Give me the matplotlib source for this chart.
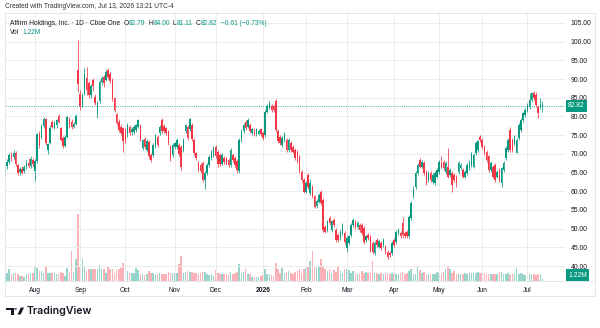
import matplotlib
matplotlib.use("Agg")
import matplotlib.pyplot as plt
import matplotlib.transforms as mtransforms
from matplotlib.patches import Polygon, Circle
from matplotlib.lines import Line2D
import numpy as np
import pandas as pd

plt.rcParams['font.family'] = ['Liberation Sans', 'DejaVu Sans']

# ---------------- data ----------------
holidays = ['2025-09-01', '2025-11-27', '2025-12-25', '2026-01-01', '2026-01-19',
            '2026-02-16', '2026-04-03', '2026-05-25', '2026-06-19', '2026-07-03']
dates = pd.bdate_range('2025-07-14', '2026-07-13', freq='C', holidays=holidays)

opens = [
    64.2, 66.8, 67.8, 69.6, 69.2, 70.3, 67.0, 65.2, 66.0, 65.3,
    66.4, 67.6, 66.8, 68.4, 65.5, 68.2, 75.4, 74.5, 77.5, 79.2,
    71.0, 72.8, 78.6, 77.0, 77.6, 80.2, 76.8, 74.3, 72.2, 74.6,
    79.4, 78.6, 77.3, 78.1, 92.5, 86.0, 83.0, 86.0, 90.2, 88.8,
    85.6, 89.8, 85.3, 81.4, 84.0, 89.2, 90.5, 89.8, 92.4, 91.4,
    89.8, 84.8, 80.6, 78.6, 77.3, 76.8, 76.2, 75.2, 77.3, 75.8,
    75.9, 76.4, 77.3, 77.7, 71.6, 74.0, 71.0, 73.2, 69.7, 69.7,
    72.0, 74.6, 75.5, 79.0, 77.4, 76.8, 76.0, 71.9, 69.7, 71.9,
    71.9, 72.4, 71.9, 71.0, 76.0, 77.3, 76.6, 77.7, 73.7, 70.1,
    67.5, 67.0, 67.5, 63.0, 64.8, 67.0, 68.8, 69.7, 71.9, 70.6,
    69.7, 67.4, 68.8, 68.8, 68.4, 67.0, 69.7, 68.8, 68.0, 65.4,
    73.7, 76.0, 78.6, 77.3, 77.8, 75.6, 76.4, 75.2, 75.4, 76.5,
    75.6, 75.0, 81.3, 82.3, 82.8, 82.7, 84.2, 76.0, 74.6, 72.4,
    73.7, 73.7, 71.0, 72.8, 71.9, 71.0, 70.6, 69.3, 65.2, 63.0,
    59.9, 64.3, 59.4, 61.2, 58.6, 56.0, 57.2, 59.9, 57.7, 50.5,
    49.6, 52.8, 49.6, 52.3, 49.6, 48.3, 47.4, 48.8, 48.8, 44.7,
    46.1, 48.3, 51.0, 51.9, 50.5, 51.0, 51.0, 50.1, 47.0, 48.3,
    47.9, 46.1, 43.4, 47.0, 45.2, 46.1, 45.6, 45.2, 43.8, 43.4,
    43.4, 47.0, 46.5, 48.8, 48.8, 51.4, 48.8, 49.2, 47.9, 52.8,
    58.6, 61.2, 64.8, 68.4, 66.6, 67.5, 65.2, 63.0, 64.8, 62.5,
    62.1, 63.9, 65.2, 67.5, 67.9, 65.2, 66.6, 64.3, 64.8, 64.3,
    63.9, 65.2, 66.1, 65.7, 63.9, 64.8, 66.1, 67.0, 66.6, 70.1,
    71.0, 74.6, 73.7, 71.9, 70.6, 69.3, 65.7, 66.6, 67.0, 63.9,
    65.7, 62.1, 65.7, 68.8, 71.0, 76.4, 73.7, 72.8, 70.1, 74.2,
    76.4, 79.1, 80.4, 81.7, 82.6, 84.4, 86.2, 85.7, 82.6, 82.6,
    82.79]

highs = [
    67.4, 68.6, 70.3, 70.6, 71.0, 70.8, 67.4, 66.6, 66.8, 67.0,
    68.3, 68.9, 69.4, 69.0, 68.6, 75.6, 76.0, 78.0, 79.8, 79.6,
    73.0, 77.6, 79.0, 78.8, 79.4, 80.6, 77.2, 74.8, 74.9, 80.2,
    79.9, 79.3, 78.6, 80.6, 100.4, 87.0, 86.2, 93.0, 93.3, 89.4,
    88.6, 90.4, 86.0, 84.0, 89.8, 90.9, 91.0, 92.4, 92.9, 91.8,
    90.2, 85.3, 81.0, 79.2, 77.9, 77.3, 76.8, 78.2, 77.8, 77.1,
    77.6, 78.1, 79.4, 78.0, 74.0, 74.5, 73.9, 73.6, 70.2, 72.9,
    75.4, 75.1, 77.8, 79.6, 77.9, 77.2, 76.4, 72.3, 72.8, 73.2,
    74.3, 72.9, 72.4, 74.1, 78.1, 77.8, 79.6, 78.2, 74.2, 70.6,
    68.0, 67.5, 68.0, 65.3, 67.5, 69.7, 71.0, 72.0, 72.4, 71.0,
    70.2, 70.2, 69.3, 69.2, 68.9, 71.5, 70.2, 69.3, 68.5, 74.2,
    76.5, 78.2, 79.1, 79.6, 78.3, 77.0, 76.9, 77.0, 76.7, 77.0,
    76.1, 81.7, 83.2, 84.1, 83.3, 83.1, 84.6, 76.5, 75.1, 74.7,
    75.9, 74.2, 74.2, 73.3, 72.4, 71.5, 71.1, 69.8, 65.7, 63.5,
    62.6, 64.8, 63.2, 61.7, 59.1, 57.8, 59.5, 60.4, 58.2, 51.0,
    52.4, 53.3, 52.4, 52.8, 50.1, 48.8, 49.7, 51.5, 49.3, 47.9,
    48.4, 51.5, 52.8, 52.4, 51.9, 51.5, 51.5, 50.6, 48.4, 48.8,
    48.4, 46.6, 46.6, 47.5, 47.1, 46.6, 47.5, 45.7, 44.3, 43.9,
    46.6, 47.5, 49.7, 50.1, 49.3, 53.2, 49.3, 49.7, 53.7, 57.3,
    61.5, 65.3, 67.5, 69.0, 68.4, 68.0, 65.7, 65.3, 65.3, 64.8,
    65.3, 66.2, 68.4, 69.3, 68.4, 68.0, 71.5, 66.2, 65.3, 64.8,
    64.4, 68.0, 67.5, 66.2, 65.7, 67.5, 68.4, 70.6, 70.2, 73.3,
    73.8, 75.0, 74.2, 72.4, 71.1, 69.8, 68.0, 67.1, 67.5, 65.7,
    66.2, 66.6, 68.0, 72.0, 74.2, 77.3, 74.2, 75.1, 74.2, 78.2,
    79.6, 81.3, 82.2, 83.5, 86.2, 86.6, 86.7, 86.6, 83.1, 84.9,
    84.00]

lows = [
    63.6, 66.0, 67.2, 68.0, 68.5, 66.8, 64.2, 64.4, 64.6, 64.9,
    66.0, 66.2, 66.3, 66.5, 62.8, 67.6, 71.5, 74.0, 77.0, 72.4,
    70.0, 72.5, 76.8, 76.5, 76.9, 78.2, 73.4, 71.6, 71.8, 74.2,
    77.0, 76.6, 76.8, 77.8, 86.5, 81.8, 82.6, 85.6, 85.8, 85.0,
    85.0, 86.8, 83.0, 79.5, 83.6, 88.5, 87.9, 89.4, 90.0, 89.0,
    84.2, 81.2, 77.6, 75.8, 75.0, 70.6, 73.0, 74.6, 75.0, 75.0,
    75.3, 75.8, 76.9, 73.4, 71.0, 71.3, 70.4, 68.6, 67.8, 69.2,
    71.6, 71.9, 75.0, 75.6, 75.6, 75.0, 72.3, 68.2, 69.2, 71.3,
    71.4, 69.5, 65.6, 70.5, 75.6, 73.6, 76.0, 73.4, 69.8, 68.3,
    65.2, 64.8, 62.4, 60.5, 64.3, 66.6, 68.3, 69.2, 68.8, 66.6,
    66.7, 67.0, 67.4, 66.9, 66.5, 66.6, 67.9, 66.5, 64.9, 65.0,
    73.2, 75.5, 76.3, 76.8, 75.5, 75.1, 74.8, 74.8, 75.0, 74.8,
    73.8, 74.6, 80.8, 81.9, 81.3, 81.1, 75.9, 72.8, 72.3, 71.9,
    73.2, 70.5, 70.5, 70.5, 70.1, 68.3, 67.5, 64.8, 62.5, 59.4,
    59.4, 60.7, 58.9, 58.1, 55.4, 55.6, 56.8, 56.3, 49.1, 48.7,
    49.1, 50.9, 49.1, 50.5, 46.5, 46.5, 46.9, 48.3, 46.0, 43.8,
    45.6, 47.8, 50.5, 50.0, 50.0, 49.1, 48.3, 46.0, 46.5, 46.9,
    43.8, 43.3, 42.9, 45.1, 44.7, 44.2, 45.1, 43.3, 42.0, 42.4,
    42.9, 45.1, 46.0, 48.3, 47.4, 47.8, 47.4, 47.4, 47.4, 52.3,
    58.1, 60.7, 64.3, 66.1, 66.1, 64.3, 61.6, 62.5, 62.5, 62.0,
    61.6, 63.4, 64.7, 66.1, 65.7, 64.7, 63.4, 63.8, 59.9, 62.5,
    61.2, 64.7, 65.6, 63.4, 63.4, 64.3, 65.6, 66.5, 66.1, 69.6,
    70.5, 73.2, 71.4, 69.6, 67.9, 65.2, 65.2, 63.4, 62.5, 63.4,
    62.5, 61.2, 65.2, 68.3, 70.5, 70.5, 70.5, 72.3, 70.1, 73.7,
    75.9, 78.6, 79.9, 81.2, 82.1, 83.9, 84.3, 82.5, 79.5, 82.1,
    81.11]

closes = [
    66.8, 67.8, 69.6, 68.9, 70.1, 67.2, 64.9, 65.9, 65.0, 66.4,
    67.6, 66.7, 68.5, 67.4, 68.2, 75.2, 72.3, 77.5, 79.4, 73.0,
    72.6, 77.0, 77.2, 78.4, 79.0, 78.6, 73.8, 72.0, 74.4, 79.8,
    77.6, 77.2, 78.0, 80.0, 88.6, 82.8, 85.6, 91.4, 87.0, 85.8,
    88.0, 88.0, 83.6, 83.5, 89.2, 90.3, 88.8, 92.0, 90.6, 89.6,
    84.8, 81.8, 78.2, 76.4, 75.6, 73.3, 73.6, 77.7, 75.5, 76.6,
    77.2, 77.7, 79.0, 73.8, 73.6, 71.9, 73.4, 69.4, 68.4, 72.4,
    75.0, 72.4, 77.3, 76.1, 76.1, 75.5, 72.9, 68.8, 72.3, 72.8,
    73.6, 70.0, 66.6, 73.6, 77.6, 74.2, 79.2, 73.9, 70.3, 68.9,
    65.8, 65.3, 63.0, 64.8, 67.0, 69.2, 70.5, 71.5, 69.3, 67.2,
    67.2, 69.7, 67.9, 67.4, 67.0, 71.0, 68.4, 67.0, 65.7, 73.7,
    76.0, 77.7, 76.8, 79.1, 76.0, 76.5, 75.2, 76.5, 76.2, 75.2,
    74.3, 81.2, 82.7, 83.6, 81.8, 81.6, 76.4, 73.3, 72.8, 74.2,
    75.5, 71.0, 73.7, 71.0, 70.6, 68.8, 68.0, 65.3, 63.0, 59.9,
    62.1, 61.2, 62.1, 58.6, 55.9, 57.3, 59.0, 56.8, 49.6, 49.2,
    51.9, 51.4, 51.9, 51.0, 47.0, 47.0, 49.2, 51.0, 46.5, 47.4,
    47.9, 51.0, 52.3, 50.5, 51.4, 49.6, 48.8, 46.5, 47.9, 47.4,
    44.3, 43.8, 46.1, 45.6, 46.6, 44.7, 47.0, 43.8, 42.5, 42.9,
    46.1, 45.6, 49.2, 49.6, 47.9, 48.3, 47.9, 47.9, 53.2, 56.8,
    60.3, 64.8, 67.0, 66.6, 67.9, 64.8, 62.1, 64.8, 63.0, 64.3,
    64.8, 65.7, 67.9, 66.6, 66.2, 67.5, 63.9, 65.7, 61.6, 63.0,
    62.1, 67.5, 67.0, 63.9, 65.2, 67.0, 67.9, 70.1, 69.7, 72.8,
    73.3, 73.7, 71.9, 70.1, 68.4, 65.7, 67.5, 63.9, 63.0, 65.2,
    63.0, 66.1, 67.5, 71.5, 73.7, 71.0, 71.0, 74.6, 73.7, 77.7,
    79.1, 80.8, 81.7, 83.0, 84.4, 86.2, 84.8, 83.0, 80.8, 83.43,
    82.82]

volumes_m = [
    6.2, 6.2, 8.8, 5.0, 5.8, 5.8, 5.0, 3.8, 3.8, 3.0,
    5.0, 5.5, 5.8, 5.8, 11.5, 10.0, 7.5, 7.5, 6.2, 11.2,
    5.8, 5.8, 5.8, 6.2, 5.5, 5.0, 6.8, 6.0, 3.8, 10.0,
    6.8, 22.5, 6.8, 16.2, 50.0, 11.2, 16.2, 11.2, 7.5, 8.8,
    8.8, 9.2, 8.8, 8.8, 12.0, 9.2, 8.8, 6.2, 11.2, 9.2,
    8.8, 6.2, 8.0, 8.8, 10.0, 13.8, 11.2, 7.5, 6.2, 6.2,
    6.2, 10.0, 8.0, 5.0, 5.0, 4.5, 5.5, 7.5, 6.2, 6.2,
    5.5, 5.5, 6.2, 5.5, 5.0, 5.0, 7.0, 6.2, 6.2, 5.8,
    6.2, 12.5, 18.8, 6.2, 7.0, 7.5, 6.8, 7.0, 6.2, 6.2,
    5.0, 6.2, 6.8, 7.0, 5.0, 4.2, 5.0, 3.8, 8.0, 6.2,
    5.0, 5.0, 5.0, 5.5, 5.5, 7.0, 5.5, 6.2, 7.0, 12.5,
    6.2, 7.0, 8.8, 5.5, 5.0, 3.0, 3.0, 3.0, 3.0, 3.8,
    4.2, 8.8, 5.0, 5.0, 4.2, 3.8, 13.8, 8.8, 6.2, 10.0,
    6.2, 6.8, 7.5, 6.2, 5.5, 7.0, 7.5, 8.8, 6.2, 8.8,
    10.0, 11.2, 15.0, 22.5, 11.2, 10.0, 11.2, 16.2, 11.2, 8.8,
    7.5, 8.8, 6.2, 8.0, 7.0, 11.2, 7.5, 6.2, 8.8, 8.8,
    8.0, 6.2, 7.5, 6.2, 5.0, 5.0, 7.5, 6.2, 6.8, 6.2,
    6.2, 15.0, 6.2, 6.2, 5.5, 6.2, 5.0, 5.5, 6.2, 5.0,
    6.2, 5.0, 5.0, 5.5, 6.2, 7.0, 5.0, 6.2, 7.5, 8.8,
    5.5, 5.5, 10.5, 8.0, 6.2, 7.0, 5.0, 5.0, 5.0, 5.5,
    5.5, 7.0, 6.2, 5.5, 7.0, 8.8, 11.2, 8.8, 6.2, 7.5,
    5.0, 6.2, 5.0, 5.5, 6.2, 5.0, 6.2, 6.2, 6.2, 6.2,
    7.0, 6.2, 6.2, 6.2, 5.5, 5.0, 5.5, 5.0, 5.5, 5.0,
    7.0, 7.0, 5.0, 5.0, 6.2, 4.5, 5.5, 6.2, 10.0, 5.0,
    6.2, 5.0, 4.5, 5.0, 5.0, 5.0, 5.0, 4.2, 5.5, 5.0,
    1.22]

price_ticks = [40, 45, 50, 55, 60, 65, 70, 75, 80, 85, 90, 95, 100, 105]
last_price = 82.82
last_volume_label = "1.22M"

# ---------------- style ----------------
W, H = 600, 328
UP = '#089981'
DN = '#F23645'
TXT = '#131722'
GRID = '#ececec'
BORDER = '#e0e3eb'
FS_AX = 4.9
FS_TXT = 4.8

fig = plt.figure(figsize=(W / 100, H / 100), dpi=100)
fig.patch.set_facecolor('white')


def fx(px):
    return px / W


def fy(py):
    return 1 - py / H


pane_l, pane_r, pane_t, pane_b = 4.5, 565, 13, 281
ax = fig.add_axes([fx(pane_l), fy(pane_b), (pane_r - pane_l) / W, (pane_b - pane_t) / H])
ax2 = ax.twinx()
ax.set_zorder(ax2.get_zorder() + 1)
ax.patch.set_visible(False)

n = len(closes)
idx = np.arange(n)
o = np.array(opens)
h = np.array(highs)
l = np.array(lows)
c = np.array(closes)
v = np.array(volumes_m)
up = c >= o
colors = np.where(up, UP, DN)

# volume (overlay at bottom)
vcol = [(0.031, 0.6, 0.506, 0.42) if u else (0.949, 0.212, 0.271, 0.38) for u in up]
ax2.bar(idx, v, width=0.72, color=vcol, linewidth=0)
ax2.set_ylim(0, 201)
ax2.set_yticks([])
for s in ax2.spines.values():
    s.set_visible(False)

# candles
ax.vlines(idx, l, h, colors=colors, linewidth=0.55, zorder=3)
body_h = np.maximum(np.abs(c - o), 0.15)
ax.bar(idx, body_h, bottom=np.minimum(o, c), width=0.72, color=colors, linewidth=0, zorder=4)

ax.set_xlim(-0.19, 260.5)
ax.set_ylim(35.99, 107.65)

# grid
month_idx = [i for i in range(1, n) if dates[i].month != dates[i - 1].month]
month_lab = [('2026' if dates[i].month == 1 else dates[i].strftime('%b')) for i in month_idx]
for t in price_ticks:
    ax.axhline(t, color=GRID, lw=0.7, zorder=0)
for i in month_idx:
    ax.axvline(i, color=GRID, lw=0.7, zorder=0)

# last price line
ax.axhline(last_price, color=UP, lw=0.6, ls=(0, (1, 1.6)), zorder=2)

for s in ax.spines.values():
    s.set_visible(False)

ax.yaxis.tick_right()
ax.set_yticks(price_ticks)
ax.set_yticklabels([f'{t:.2f}' for t in price_ticks])
ax.tick_params(axis='y', length=0, pad=4, labelsize=FS_AX, labelcolor=TXT)
ax.set_xticks(month_idx)
ax.set_xticklabels(month_lab)
ax.tick_params(axis='x', length=0, pad=4.5, labelsize=FS_AX, labelcolor=TXT)
for lab in ax.get_xticklabels():
    if lab.get_text() == '2026':
        lab.set_fontweight('bold')

# last price box
trans = mtransforms.blended_transform_factory(ax.transAxes, ax.transData)
ax.text(1.0 + 3 / (pane_r - pane_l), last_price, f'{last_price:.2f}', transform=trans,
        ha='left', va='center', fontsize=FS_AX, color='white', zorder=10, clip_on=False,
        bbox=dict(boxstyle='square,pad=0.35', fc=UP, ec='none'))
ax.text(1.0 + 3 / (pane_r - pane_l), 0.022, last_volume_label, transform=ax.transAxes,
        ha='left', va='center', fontsize=FS_AX, color='white', zorder=10, clip_on=False,
        bbox=dict(boxstyle='square,pad=0.35', fc=UP, ec='none'))

# borders
for (x0, y0, x1, y1) in [(pane_l, 13, 595, 13), (pane_l, 296, 595, 296), (595, 13, 595, 296),
                         (pane_l, 13, pane_l, 296), (pane_l, 281, 595, 281)]:
    fig.add_artist(Line2D([fx(x0), fx(x1)], [fy(y0), fy(y1)], color=BORDER, lw=0.6))

# header texts
fig.text(fx(5), fy(7), 'Created with TradingView.com, Jul 13, 2026 13:21 UTC-4',
         fontsize=FS_TXT, color='#333333', ha='left', va='center')

renderer = fig.canvas.get_renderer()


def seq_text(x_px, y_px, pieces, size):
    x = x_px
    for s, col, gap in pieces:
        t = fig.text(fx(x), fy(y_px), s, fontsize=size, color=col, ha='left', va='center')
        bb = t.get_window_extent(renderer)
        x += bb.width + gap


seq_text(10, 23.5, [('Affirm Holdings, Inc. · 1D · Cboe One', TXT, 3.0),
                    ('O', TXT, 0.4), ('82.79', UP, 3.0),
                    ('H', TXT, 0.4), ('84.00', UP, 3.0),
                    ('L', TXT, 0.4), ('81.11', UP, 3.0),
                    ('C', TXT, 0.4), ('82.82', UP, 4.0),
                    ('−0.61 (−0.73%)', UP, 0)], FS_TXT)
seq_text(10, 32.5, [('Vol', TXT, 3.0), ('1.22M', UP, 0)], FS_TXT)

# logo
logo_T = Polygon([(fx(6), fy(307.5)), (fx(13.5), fy(307.5)), (fx(13.5), fy(314.5)),
                  (fx(10.8), fy(314.5)), (fx(10.8), fy(310.2)), (fx(6), fy(310.2))],
                 closed=True, transform=fig.transFigure, fc='#131722', ec='none')
logo_S = Polygon([(fx(17.5), fy(314.5)), (fx(20.8), fy(307.5)), (fx(24), fy(307.5)),
                  (fx(20.7), fy(314.5))],
                 closed=True, transform=fig.transFigure, fc='#131722', ec='none')
logo_D = Circle((fx(15.6), fy(308.9)), radius=1.3 / W, transform=fig.transFigure,
                fc='#131722', ec='none')
for p in (logo_T, logo_S, logo_D):
    fig.add_artist(p)
fig.text(fx(27), fy(311), 'TradingView', fontsize=7.6, color='#131722', fontweight='semibold',
         family=['Inter', 'DejaVu Sans'], ha='left', va='center')

fig.savefig('out.png', dpi=100, facecolor='white')
